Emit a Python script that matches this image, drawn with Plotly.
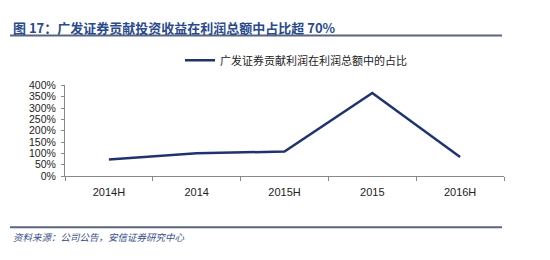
import plotly.graph_objects as go

categories = ["2014H", "2014", "2015H", "2015", "2016H"]
values = [73, 101, 108, 367, 84]
series_name = "广发证券贡献利润在利润总额中的占比"
y_ticks = [0, 50, 100, 150, 200, 250, 300, 350, 400]
y_tick_labels = ["0%", "50%", "100%", "150%", "200%", "250%", "300%", "350%", "400%"]
title_text = "图 17：广发证券贡献投资收益在利润总额中占比超 70%"
source_text = "资料来源：公司公告，安信证券研究中心"

W, H = 550, 260
def px(x):
    return x / W
def py(y):
    return (H - y) / H

fig = go.Figure()
fig.add_trace(go.Scatter(
    x=categories, y=values, mode="lines", name=series_name,
    line=dict(color="#1f3370", width=2.5),
))

cjk = "Noto Sans CJK SC"
fig.update_layout(
    width=W, height=H,
    margin=dict(l=0, r=0, t=0, b=0),
    paper_bgcolor="white", plot_bgcolor="white",
    showlegend=True,
    legend=dict(
        orientation="h", x=px(180), y=py(57), xanchor="left", yanchor="middle",
        font=dict(family=cjk, size=11, color="#222"),
        bgcolor="rgba(0,0,0,0)", itemwidth=30,
    ),
    xaxis=dict(
        domain=[px(65), px(504)],
        type="category", range=[-0.5, 4.5],
        showline=True, linecolor="#888", linewidth=1,
        ticks="outside", tickson="boundaries", ticklen=4, tickcolor="#888",
        ticklabelstandoff=6,
        showgrid=False, zeroline=False,
        tickfont=dict(family="Liberation Sans, Arial", size=11, color="#222"),
    ),
    yaxis=dict(
        domain=[py(178.3), py(83.3)],
        range=[0, 400], tickmode="array", tickvals=y_ticks, ticktext=y_tick_labels,
        showline=True, linecolor="#888", linewidth=1,
        ticks="outside", ticklen=3, tickcolor="#888",
        ticklabelstandoff=3,
        showgrid=False, zeroline=False,
        tickfont=dict(family="Liberation Sans, Arial", size=10.5, color="#222"),
    ),
)

# Title and source
fig.add_annotation(
    text="<b>" + title_text + "</b>", xref="paper", yref="paper",
    x=px(11), y=py(23), xanchor="left", yanchor="middle", showarrow=False,
    font=dict(family=cjk, size=13, color="#2a4a8c"),
)
fig.add_annotation(
    text="<i>" + source_text + "</i>", xref="paper", yref="paper",
    x=px(11), y=py(242), xanchor="left", yanchor="middle", showarrow=False,
    font=dict(family=cjk, size=9.5, color="#3a4f8a"),
)
# Rule lines
for yy in (31, 232):
    fig.add_shape(type="line", xref="paper", yref="paper",
                  x0=px(10), x1=px(502), y0=py(yy), y1=py(yy),
                  line=dict(color="#5b6580", width=2))

fig.write_html("out.html")
